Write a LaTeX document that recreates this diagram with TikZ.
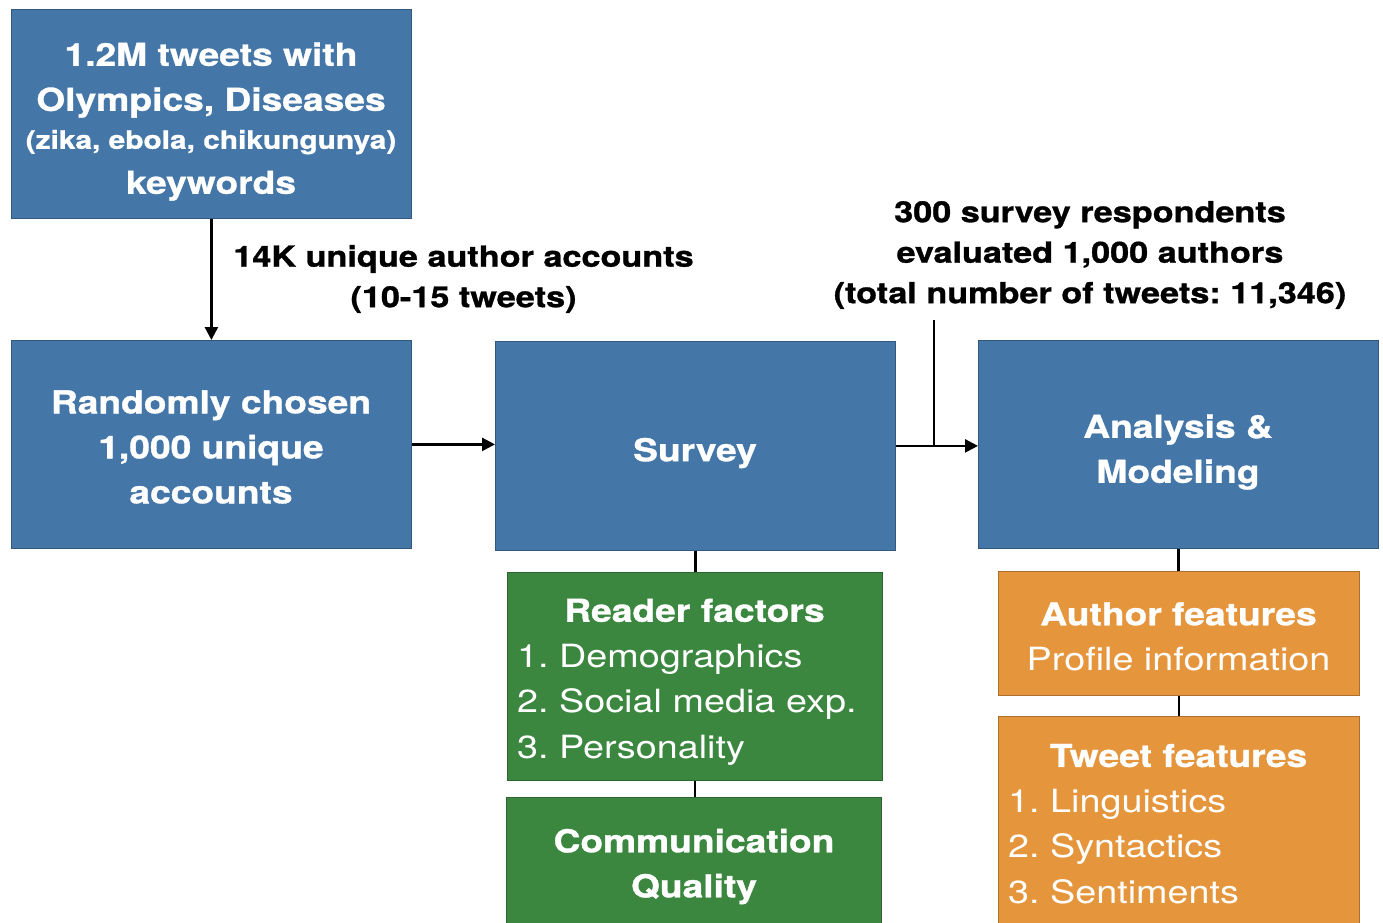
\documentclass[tikz,border=0pt]{standalone}
\usepackage{fontspec}
\setmainfont{TeX Gyre Heros}[FakeStretch=1.18, BoldFeatures={FakeBold=1}]
\usetikzlibrary{arrows.meta}
\definecolor{boxblue}{RGB}{68,118,168}
\definecolor{boxgreen}{RGB}{60,135,64}
\definecolor{boxorange}{RGB}{229,149,60}
\frenchspacing
\begin{document}
\begin{tikzpicture}[x=1pt,y=-1pt,
  box/.style={draw=#1!75!black, line width=0.8pt, fill=#1, inner sep=0pt, anchor=north west},
  boxtext/.style={text=white, inner sep=0pt, align=center, font=\fontsize{31.5}{45}\selectfont\bfseries},
  listtext/.style={text=white, inner sep=0pt, align=left, font=\fontsize{32}{45.5}\selectfont},
  lbl/.style={inner sep=0pt, align=center, font=\fontsize{29}{40.5}\selectfont\bfseries},
  flow/.style={line width=2.5pt, -{Triangle[length=13pt,width=13pt]}},
  link/.style={line width=2.5pt}]
\useasboundingbox (0,0) rectangle (1383,922);
\clip (0,0) rectangle (1383,922);

% boxes
\node[box=boxblue, minimum width=400pt, minimum height=209pt] (src) at (11,9) {};
\node[box=boxblue, minimum width=400pt, minimum height=208pt] (rand) at (11,340) {};
\node[box=boxblue, minimum width=400pt, minimum height=209pt] (survey) at (495,341) {};
\node[box=boxblue, minimum width=400pt, minimum height=208pt] (ana) at (978,340) {};
\node[box=boxgreen, minimum width=375pt, minimum height=208pt] (reader) at (507,572) {};
\node[box=boxgreen, minimum width=375pt, minimum height=140pt] (comm) at (506,797) {};
\node[box=boxorange, minimum width=361pt, minimum height=124pt] (author) at (998,571) {};
\node[box=boxorange, minimum width=361pt, minimum height=220pt] (tweet) at (998,716) {};

% box texts
\node[boxtext] (srct) at (211,121.5) {1.2M tweets with\\Olympics, Diseases\\[-7pt]{\fontsize{25.3}{36}\selectfont(zika, ebola, chikungunya)}\\keywords};
\node[boxtext] (randt) at (211,447) {Randomly chosen\\1,000 unique\\accounts};
\node[boxtext] (surveyt) at (695,453) {Survey};
\node[boxtext] (anat) at (1178,452) {Analysis \&\\Modeling};
\node[listtext, text width=355pt] (readert) at (694.5,682) {{\centering\bfseries\fontsize{31.5}{45.5}\selectfont Reader factors\par}1. Demographics\\2. Social media exp.\\3. Personality};
\node[boxtext] (commt) at (694,866.5) {Communication\\Quality};
\node[boxtext] (authort) at (1178.5,636.5) {Author features\\{\mdseries\fontsize{32}{45}\selectfont Profile information}};
\node[listtext, text width=341pt] (tweett) at (1178.5,824) {{\centering\bfseries\fontsize{31.5}{45.5}\selectfont Tweet features\par}1. Linguistics\\2. Syntactics\\3. Sentiments};

% labels
\node[lbl] (lblA) at (463.5,279) {14K unique author accounts\\(10-15 tweets)};
\node[lbl] (lblB) at (1090,255) {300 survey respondents\\evaluated 1,000 authors\\(total number of tweets: 11,346)};
\coordinate (tap) at (934,320);

% connectors
\draw[flow] (src.south) -- (rand.north);
\draw[flow] (rand.east) -- (rand.east -| survey.west);
\draw[flow] (survey.east) -- (survey.east -| ana.west);
\draw[link] (tap) -- (tap |- survey.east);
\draw[link] (survey.south) -- (survey.south |- reader.north);
\draw[link] (reader.south) -- (reader.south |- comm.north);
\draw[link] (ana.south) -- (ana.south |- author.north);
\draw[link] (author.south) -- (author.south |- tweet.north);
\end{tikzpicture}
\end{document}
